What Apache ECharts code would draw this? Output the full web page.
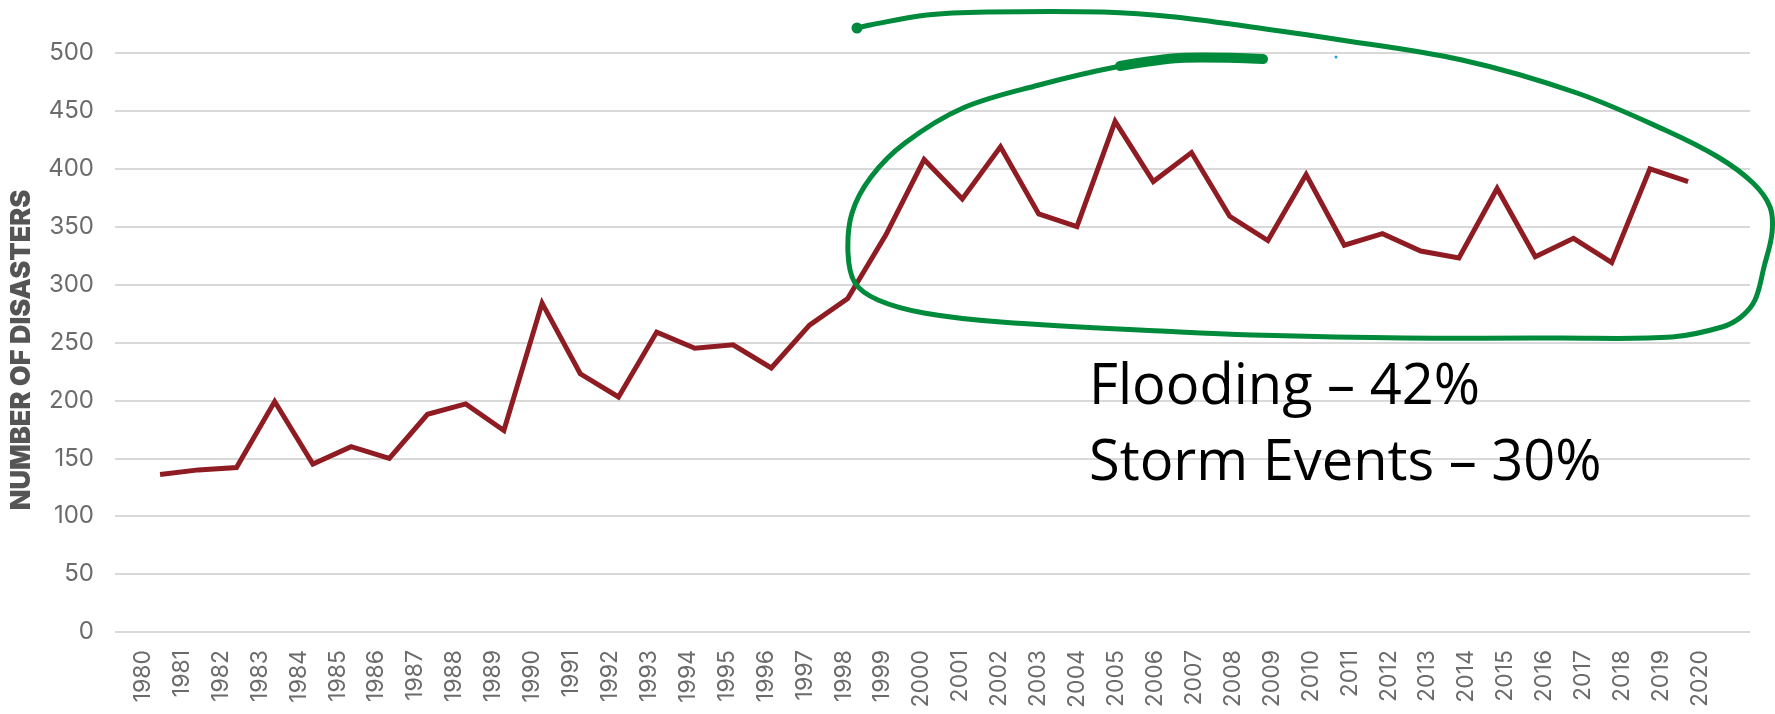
<!DOCTYPE html>
<html>
<head>
<meta charset="utf-8">
<script src="https://cdn.jsdelivr.net/npm/echarts@6/dist/echarts.min.js"></script>
<style>
html,body{margin:0;padding:0;background:#fff;}
#chart{width:1775px;height:714px;}
</style>
</head>
<body>
<div id="chart"></div>
<script>
// ---- data ----
const years = [1980,1981,1982,1983,1984,1985,1986,1987,1988,1989,
               1990,1991,1992,1993,1994,1995,1996,1997,1998,1999,
               2000,2001,2002,2003,2004,2005,2006,2007,2008,2009,
               2010,2011,2012,2013,2014,2015,2016,2017,2018,2019,2020];
const disasters = [136,140,142,199,145,160,150,188,197,174,
                   284,223,203,259,245,248,228,265,288,343,
                   408,374,419,361,350,441,389,414,359,338,
                   395,334,344,329,323,383,324,340,319,400,389];
const yAxisTitle = 'NUMBER OF DISASTERS';
const noteLines = ['Flooding – 42%', 'Storm Events – 30%'];

// ---- hand-drawn annotation outline (not data) ----
const loopPts = [[857,28],[870,25],[927,15],[987,12],[1103,12],[1175,17],[1280,31],[1328,38],
  [1462,60],[1577,93],[1665,130],[1718,157],[1753,183],[1770,207],[1772,233],[1764,267],
  [1755,300],[1741,317],[1722,327],[1672,337],[1558,338],[1405,338],[1252,335],[1180,332],
  [1001,322],[924,313],[878,300],[855,283],[848,253],[852,213],[871,177],[905,143],
  [963,108],[1039,85],[1116,67],[1180,58],[1263,59]];
const thickEnd = [[1120,66],[1180,58],[1263,59]];
const green = '#008a3b';

const chart = echarts.init(document.getElementById('chart'), null, {renderer:'canvas'});
const labelColor = '#6b6b6b';

chart.setOption({
  animation:false,
  backgroundColor:'#ffffff',
  grid:[
    {left:113, right:25, top:53, bottom:82},
    {left:143, right:75, top:53, bottom:82}
  ],
  xAxis:[
    {gridIndex:0, type:'value', min:1978.82, max:2021.62, show:false},
    {gridIndex:1, type:'category', boundaryGap:false, data:years.map(String),
     axisLine:{show:false}, axisTick:{show:false}, splitLine:{show:false},
     axisLabel:{rotate:90, interval:0, margin:18, color:labelColor, fontFamily:'Inter', fontSize:23}}
  ],
  yAxis:[
    {gridIndex:0, type:'value', min:0, max:500, interval:50,
     axisLine:{show:false}, axisTick:{show:false},
     splitLine:{lineStyle:{color:'#cccccc', width:1.5}},
     axisLabel:{margin:21, color:labelColor, fontFamily:'Inter', fontSize:24},
     name:yAxisTitle, nameLocation:'middle', nameGap:80,
     nameTextStyle:{color:'#555555', fontFamily:'Inter', fontWeight:900, fontSize:27, padding:[0,15,0,0]}},
    {gridIndex:1, type:'value', min:0, max:500, show:false}
  ],
  series:[{
    type:'line', xAxisIndex:0, yAxisIndex:0,
    data:years.map((y,i)=>[y, disasters[i]]),
    symbol:'none', showSymbol:false,
    lineStyle:{color:'#8e1c22', width:5, join:'miter'},
    itemStyle:{color:'#8e1c22'},
    z:3
  }],
  graphic:[
    {type:'polyline', z:100, shape:{points:loopPts, smooth:0.35},
     style:{stroke:green, lineWidth:5, fill:null, lineCap:'round', lineJoin:'round'}},
    {type:'polyline', z:100, shape:{points:thickEnd, smooth:0.3},
     style:{stroke:green, lineWidth:10, fill:null, lineCap:'round', lineJoin:'round'}},
    {type:'circle', z:100, shape:{cx:857, cy:28, r:5.5}, style:{fill:green}},
    {type:'circle', z:100, shape:{cx:1336, cy:57, r:1.5}, style:{fill:'#1fa3dc'}},
    {type:'text', z:100, x:1089, y:388,
     style:{text:noteLines[0], fontFamily:'"Open Sans"', fontSize:56, fill:'#000000', align:'left', verticalAlign:'middle'}},
    {type:'text', z:100, x:1089, y:464,
     style:{text:noteLines[1], fontFamily:'"Open Sans"', fontSize:56, fill:'#000000', align:'left', verticalAlign:'middle'}}
  ]
});
</script>
</body>
</html>
